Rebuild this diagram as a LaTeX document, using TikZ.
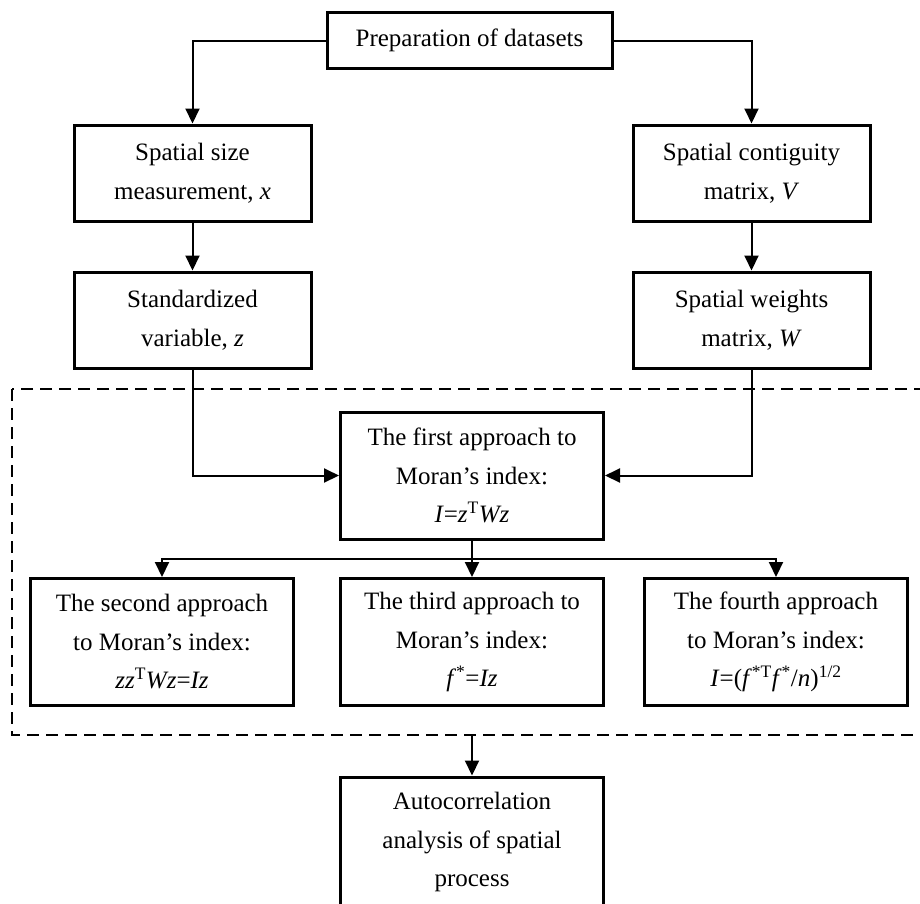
\documentclass[tikz,border=0pt]{standalone}
\usepackage{fontspec}
\setmainfont{Liberation Serif}
\usetikzlibrary{arrows.meta,positioning}

\begin{document}
\begin{tikzpicture} [x=1pt,y=-1pt,
	box/.style={draw,line width=3pt,align=center,inner sep=0pt,font=\fontsize{25}{38.5}\selectfont},
	flow/.style={line width=2pt,-{Triangle[length=15pt,width=14pt]}}]
	
	\useasboundingbox (0,0) rectangle (920,903);
	
	% dashed frame round the four approaches
	\coordinate (frame_nw) at (12,389);
	\coordinate (frame_se) at (940,735);
	\draw [line width=2.5pt,dash pattern=on 12pt off 7pt] (frame_nw) rectangle (frame_se);
	
	\begin{scope}[every node/.append style={minimum width=237pt,minimum height=96pt}]
	
	\node (prep) [box,minimum width=285pt,minimum height=56pt] at (469.5,40.5) {Preparation of datasets};
	
	\node (size_x) [box] at (192.5,173) {Spatial size\\measurement, \textit{x}};
	
	\node (contig_V) [box] at (751.5,173) {Spatial contiguity\\matrix, \textit{V}};
	
	\node (std_z) [box] at (192.5,320) {Standardized\\variable, \textit{z}};
	
	\node (weight_W) [box] at (751.5,320) {Spatial weights\\matrix, \textit{W}};
	
	\end{scope}
	
	
	\begin{scope}[every node/.append style={minimum width=263pt,minimum height=127pt}]
	
	\node (first) [box] at (472,475.5) {The first approach to\\Moran’s index:\\\textit{I}=\textit{z}\textsuperscript{T}\textit{Wz}};
	
	\node (second) [box] at (162,642) {The second approach\\to Moran’s index:\\\textit{zz}\textsuperscript{T}\textit{Wz}=\textit{Iz}};
	
	\node (third) [box] at (472,642) {The third approach to\\Moran’s index:\\\textit{f}\textsuperscript{*}=\textit{Iz}};
	
	\node (fourth) [box] at (776,642) {The fourth approach\\to Moran’s index:\\\textit{I}=(\textit{f}\textsuperscript{*T}\textit{f}\textsuperscript{*}/\textit{n})\textsuperscript{1/2}};
	
	\node (final) [box,minimum height=130pt] at (472,842) {Autocorrelation\\analysis of spatial\\process};
	
	\end{scope}
	
	
	\draw [flow] (prep.west) -| (size_x.north);
	\draw [flow] (prep.east) -| (contig_V.north);
	
	\draw [flow] (size_x) -- (std_z);
	\draw [flow] (contig_V) -- (weight_W);
	
	\draw [flow] (std_z.south) |- (first.west);
	\draw [flow] (weight_W.south) |- (first.east);
	
	\coordinate (split) at (472,559);
	
	\draw [line width=2pt] (first.south) -- (split);
	\draw [flow] (split) -| (second.north);
	\draw [flow] (split) -- (third.north);
	\draw [flow] (split) -| (fourth.north);
	
	\draw [flow] (final.north |- frame_se) -- (final.north);
	
\end{tikzpicture}
\end{document}
